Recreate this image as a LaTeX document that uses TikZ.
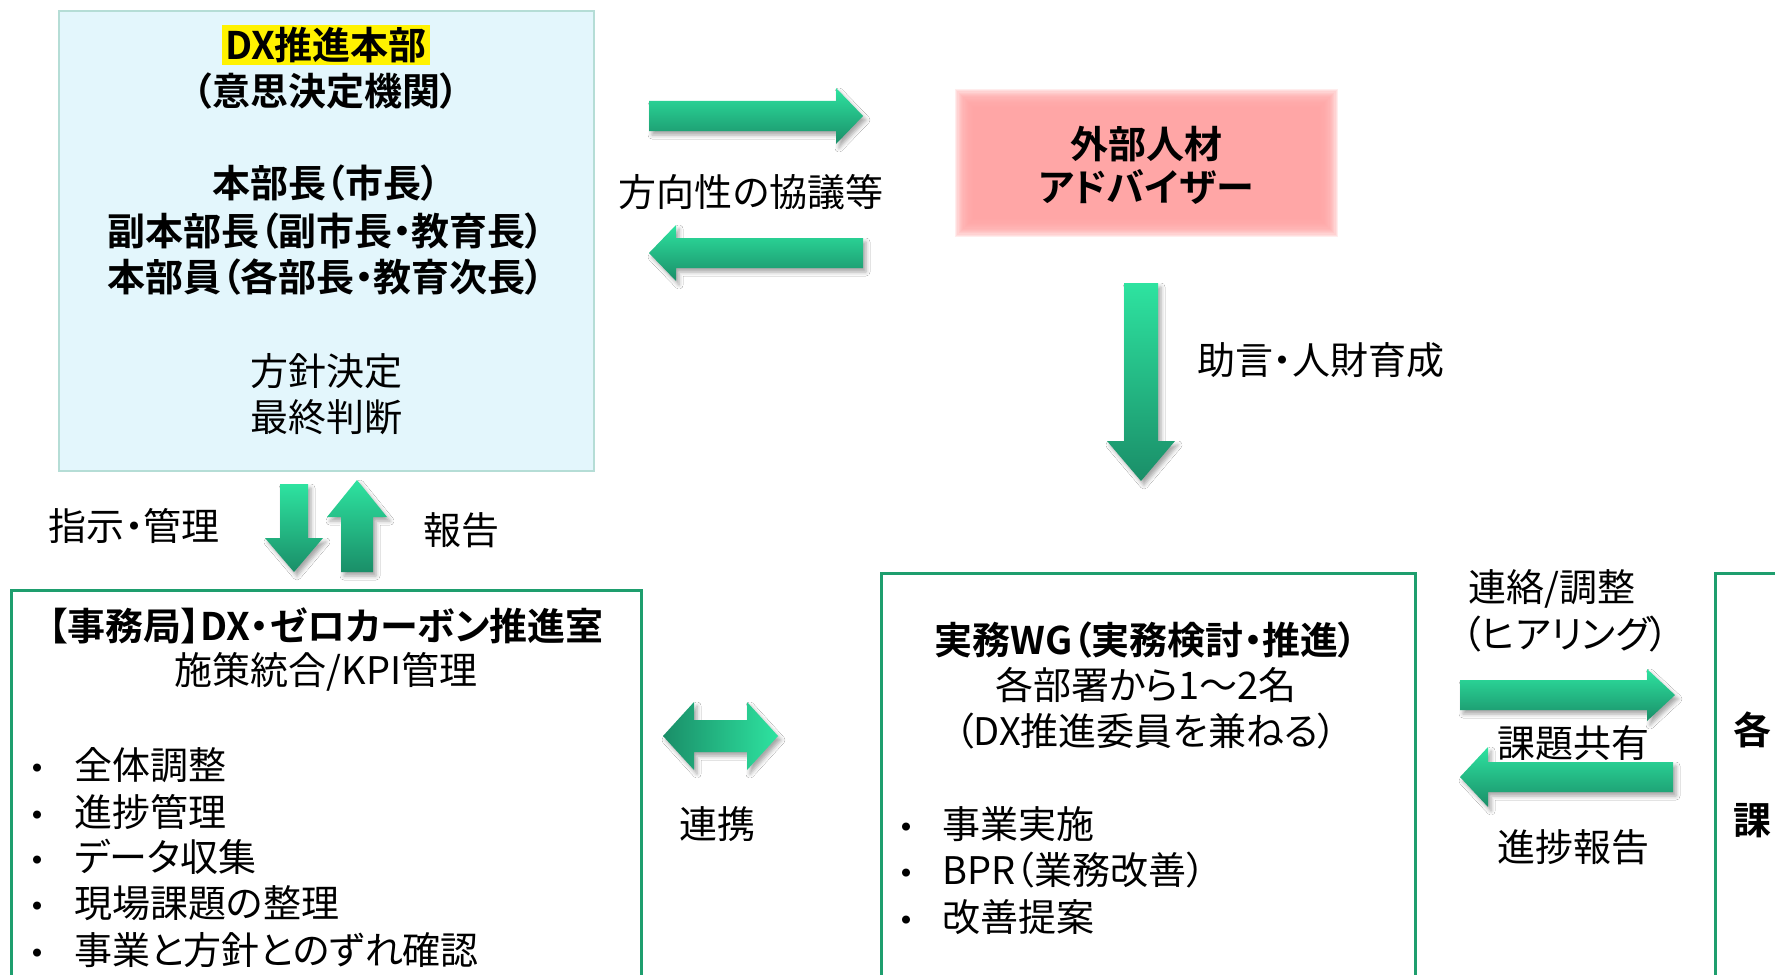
\documentclass[tikz,border=0pt]{standalone}
\usepackage{fontspec}
\setmainfont{Noto Sans CJK JP}[RawFeature=+palt,BoldFont={* Bold}]
\usetikzlibrary{shadows.blur}
\definecolor{boxblue}{HTML}{E3F6FC}
\definecolor{boxblueline}{HTML}{B5DDD6}
\definecolor{gline}{HTML}{1E9E6E}
\definecolor{glight}{HTML}{2EE3A0}
\definecolor{gdark}{HTML}{1A8E68}
\definecolor{pinkbox}{HTML}{FFA6A6}
\tikzset{
  txt/.style={font=\fontsize{19}{23}\selectfont, inner sep=0pt, text=black},
  btxt/.style={txt, font=\fontsize{19}{23}\selectfont\bfseries},
  garrow/.style={blur shadow={shadow xshift=1.5pt, shadow yshift=-2pt, shadow blur radius=2pt, shadow opacity=35}},
  gbox/.style={draw=gline, line width=1.5pt, fill=white, inner sep=0pt},
}
\newcommand{\GArrowRight}[6]{%
  \shade[garrow, top color=glight, bottom color=gdark] (#1,{#3-#4}) -- ({#2-#6},{#3-#4}) -- ({#2-#6},{#3-#5}) -- (#2,#3) -- ({#2-#6},{#3+#5}) -- ({#2-#6},{#3+#4}) -- (#1,{#3+#4}) -- cycle;}
\newcommand{\GArrowLeft}[6]{%
  \shade[garrow, top color=glight, bottom color=gdark] (#2,{#3-#4}) -- ({#1+#6},{#3-#4}) -- ({#1+#6},{#3-#5}) -- (#1,#3) -- ({#1+#6},{#3+#5}) -- ({#1+#6},{#3+#4}) -- (#2,{#3+#4}) -- cycle;}
\newcommand{\GArrowDown}[6]{%
  \shade[garrow, top color=glight, bottom color=gdark] ({#1-#4},#2) -- ({#1+#4},#2) -- ({#1+#4},{#3-#6}) -- ({#1+#5},{#3-#6}) -- (#1,#3) -- ({#1-#5},{#3-#6}) -- ({#1-#4},{#3-#6}) -- cycle;}
\newcommand{\GArrowUp}[6]{%
  \shade[garrow, top color=glight, bottom color=gdark] ({#1-#4},#3) -- ({#1+#4},#3) -- ({#1+#4},{#2+#6}) -- ({#1+#5},{#2+#6}) -- (#1,#2) -- ({#1-#5},{#2+#6}) -- ({#1-#4},{#2+#6}) -- cycle;}
\newcommand{\GArrowBoth}[6]{%
  \shade[garrow, left color=gdark, right color=glight] (#1,#3) -- ({#1+#6},{#3-#5}) -- ({#1+#6},{#3-#4}) -- ({#2-#6},{#3-#4}) -- ({#2-#6},{#3-#5}) -- (#2,#3) -- ({#2-#6},{#3+#5}) -- ({#2-#6},{#3+#4}) -- ({#1+#6},{#3+#4}) -- ({#1+#6},{#3+#5}) -- cycle;}
\begin{document}
\begin{tikzpicture}[x=0.5pt,y=-0.5pt]
\useasboundingbox (0,0) rectangle (1775,974);
\clip (0,0) rectangle (1775,974);
\fill[white] (0,0) rectangle (1775,974);

% top-left box
\node[draw=boxblueline, line width=0.6pt, fill=boxblue, minimum width=267.5pt, minimum height=230pt, inner sep=0pt] (hq) at (326.5,241) {};
\node[btxt, fill=yellow, inner xsep=1.5pt, inner ysep=1pt] (hq1) at (326,45) {DX推進本部};
\node[btxt] (hq2) at (326,91) {（意思決定機関）};
\node[btxt] (hq3) at (326,183) {本部長（市長）};
\node[btxt] (hq4) at (326,231) {副本部長（副市長・教育長）};
\node[btxt] (hq5) at (326,277) {本部員（各部長・教育次長）};
\node[txt] (hq6) at (326,371) {方針決定};
\node[txt] (hq7) at (326,417) {最終判断};

% advisor (soft-edged pink panel built from stacked translucent layers)
\foreach \i in {0,...,18}
  \fill[pinkbox, opacity=0.2] ({955+\i*1.2},{89+\i*1.2}) rectangle ({1338-\i*1.2},{237-\i*1.2});
\node[minimum width=178.5pt, minimum height=61pt, inner sep=0pt] (adv) at (1146.5,163) {};
\node[btxt] (adv1) at (1146,144) {外部人材};
\node[btxt] (adv2) at (1146,187) {アドバイザー};

% arrows hq <-> advisor
\GArrowRight{649}{863}{116}{15}{28}{27}
\GArrowLeft{649}{863}{253}{15}{28}{27}
\node[txt] (lab1) at (751,192) {方向性の協議等};

% advisor -> WG
\GArrowDown{1141}{283}{481}{17}{34}{40}
\node[txt, anchor=west] (lab2) at (1197,360) {助言・人財育成};

% hq <-> secretariat
\GArrowDown{294}{484}{572}{14}{29}{34}
\GArrowUp{357}{480}{572}{16}{30}{37}
\node[txt] (lab3) at (134,526) {指示・管理};
\node[txt] (lab4) at (461,530) {報告};

% secretariat
\node[gbox, minimum width=315pt, minimum height=205pt] (sec) at (326,795) {};
\node[btxt] (sec1) at (326,626) {【事務局】DX・ゼロカーボン推進室};
\node[txt] (sec2) at (326,672) {施策統合/KPI管理};
\foreach \yy/\tt [count=\k] in {765/全体調整,812/進捗管理,857/データ収集,903/現場課題の整理,950/事業と方針とのずれ確認}{
  \node[txt] (secb\k) at (37,\yy+8) {・};
  \node[txt, anchor=west] (sect\k) at (74,\yy) {\tt};
}

% secretariat <-> WG
\GArrowBoth{663}{778}{736}{16}{34}{31}
\node[txt] (lab5) at (717,824) {連携};

% WG
\node[gbox, minimum width=267pt, minimum height=213.5pt] (wg) at (1148,786.5) {};
\node[btxt] (wg1) at (1146,640) {実務WG（実務検討・推進）};
\node[txt] (wg2) at (1146,685) {各部署から1～2名};
\node[txt] (wg3) at (1146,731) {（DX推進委員を兼ねる）};
\foreach \yy/\tt [count=\k] in {824/事業実施,870/BPR（業務改善）,917/改善提案}{
  \node[txt] (wgb\k) at (906,\yy+8) {・};
  \node[txt, anchor=west] (wgt\k) at (942,\yy) {\tt};
}

% WG <-> right box
\node[txt, anchor=west] (lab6) at (1468,589) {連絡/調整};
\node[txt, anchor=west] (lab7) at (1462,634) {（ヒアリング）};
\GArrowRight{1460}{1675}{695}{15}{26}{28}
\node[txt] (lab8) at (1573,743) {課題共有};
\GArrowLeft{1460}{1673}{777}{15}{30}{28}
\node[txt] (lab9) at (1573,847) {進捗報告};

% right box (cut off)
\node[gbox, minimum width=50pt, minimum height=213.5pt] (div) at (1765,786.5) {};
\node[btxt] (div1) at (1752,730) {各};
\node[btxt] (div2) at (1752,821) {課};
\end{tikzpicture}
\end{document}
